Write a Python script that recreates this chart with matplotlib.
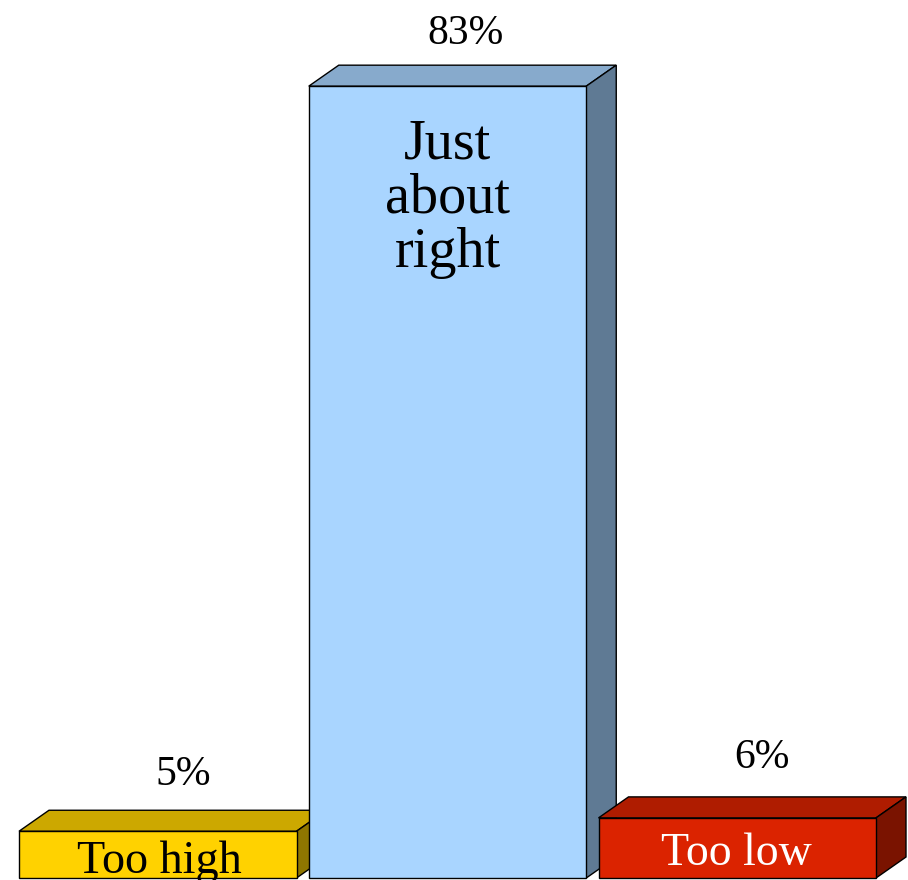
import matplotlib
matplotlib.use("Agg")
import matplotlib.pyplot as plt
from matplotlib.patches import Polygon

plt.rcParams['font.family'] = ['Liberation Serif', 'DejaVu Serif']

# bar heights, printed labels are the rounded ones
names = ['Too high', 'Just\nabout\nright', 'Too low']
heights = [4.9, 83.0, 6.3]
pct_labels = ['5%', '83%', '6%']

front_colors = ['#FFD200', '#A9D5FF', '#DB2300']
top_colors = ['#CCA800', '#87AACC', '#AF1C00']
side_colors = ['#8F7600', '#5F7A94', '#7A1300']
name_colors = ['black', 'black', 'white']

W, H = 908, 880
px_x = 289.75  # px per category
px_y = 9.54    # px per percent
base_px = 878
bar_w = 277.5 / px_x
dx = 30 / px_x
dy = 21 / px_y

fig = plt.figure(figsize=(W / 100, H / 100), dpi=100)
ax = fig.add_axes([0, 0, 1, 1])
ax.set_xlim((0 - 447.5) / px_x + 1, (W - 447.5) / px_x + 1)
ax.set_ylim(-(H - base_px) / px_y, base_px / px_y)
ax.axis('off')

lw = 1.0
for i, h in enumerate(heights):
    # each bar is drawn over the one to its left
    z = 2 + i
    l, r = i - bar_w / 2, i + bar_w / 2
    ax.add_patch(Polygon([(l, h), (r, h), (r + dx, h + dy), (l + dx, h + dy)],
                         fc=top_colors[i], ec='black', lw=lw, zorder=z))
    ax.add_patch(Polygon([(r, 0), (r + dx, dy), (r + dx, h + dy), (r, h)],
                         fc=side_colors[i], ec='black', lw=lw, zorder=z))
    ax.bar(i, h, width=bar_w, color=front_colors[i], edgecolor='black', lw=lw, zorder=z)

# percent labels, offsets in px from the bar's top centre
pct_off = [(25, 46), (18, 42), (25, 50)]
for i, h in enumerate(heights):
    ax.annotate(pct_labels[i], xy=(i, h), xytext=pct_off[i], textcoords='offset pixels',
                ha='center', va='baseline', fontsize=30, color='black', zorder=10)

name_sizes = [33.2, 40.5, 33]
name_off = [(2, -42), (0, -181), (-1, -47)]
for i, h in enumerate(heights):
    ax.annotate(names[i], xy=(i, h), xytext=name_off[i], textcoords='offset pixels',
                ha='center', va='baseline', multialignment='center', linespacing=1.06,
                fontsize=name_sizes[i], color=name_colors[i], zorder=10,
                annotation_clip=False)

fig.savefig('out.png', dpi=100)
